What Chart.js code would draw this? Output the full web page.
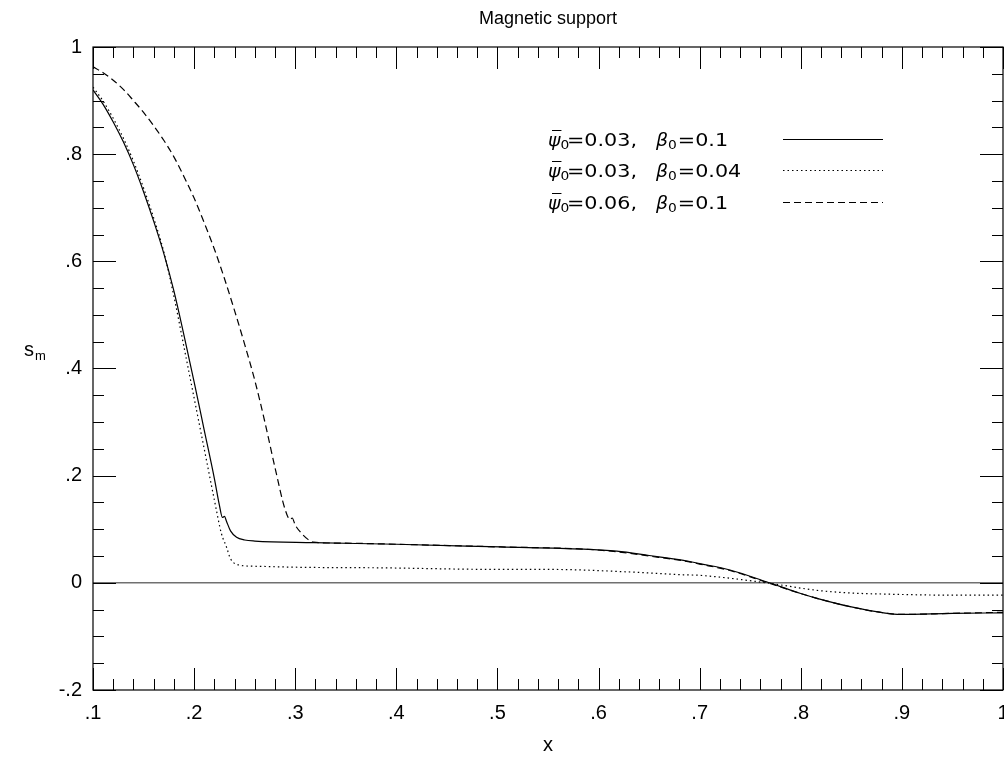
<!DOCTYPE html>
<html>
<head>
<meta charset="utf-8">
<script src="https://cdn.jsdelivr.net/npm/chart.js@4.4.0/dist/chart.umd.min.js"></script>
<style>
  body { margin: 0; background: #fff; }
  canvas { display: block; }
</style>
</head>
<body>
<canvas id="chart" width="1004" height="759"></canvas>
<script>
// values
const solidX = [0.100, 0.110, 0.120, 0.130, 0.140, 0.150, 0.160, 0.170, 0.180, 0.190, 0.200, 0.210, 0.220, 0.225, 0.228, 0.230, 0.232, 0.236, 0.242, 0.250, 0.260, 0.318, 0.400, 0.503, 0.585, 0.618, 0.650, 0.684, 0.700, 0.730, 0.766, 0.800, 0.816, 0.850, 0.882, 0.898, 0.950, 1.000];
const solidY = [0.920, 0.893, 0.860, 0.823, 0.780, 0.730, 0.675, 0.615, 0.545, 0.462, 0.375, 0.285, 0.195, 0.145, 0.122, 0.124, 0.115, 0.097, 0.085, 0.080, 0.078, 0.075, 0.072, 0.067, 0.063, 0.059, 0.051, 0.042, 0.036, 0.024, 0.002, -0.020, -0.029, -0.045, -0.056, -0.059, -0.057, -0.056];

const dottedX = [0.100, 0.110, 0.120, 0.130, 0.140, 0.150, 0.160, 0.170, 0.180, 0.190, 0.200, 0.210, 0.220, 0.227, 0.232, 0.236, 0.245, 0.260, 0.305, 0.384, 0.503, 0.552, 0.634, 0.684, 0.700, 0.766, 0.816, 0.850, 0.883, 0.950, 1.000];
const dottedY = [0.925, 0.899, 0.867, 0.830, 0.787, 0.737, 0.681, 0.618, 0.535, 0.440, 0.345, 0.250, 0.155, 0.092, 0.067, 0.045, 0.033, 0.031, 0.029, 0.028, 0.025, 0.025, 0.020, 0.015, 0.014, 0.000, -0.014, -0.019, -0.021, -0.023, -0.023];

const dashedX = [0.100, 0.110, 0.120, 0.130, 0.140, 0.150, 0.160, 0.170, 0.180, 0.190, 0.200, 0.210, 0.220, 0.230, 0.240, 0.250, 0.260, 0.270, 0.280, 0.290, 0.295, 0.297, 0.300, 0.305, 0.312, 0.318, 0.350, 0.400, 0.503, 0.585, 0.618, 0.650, 0.684, 0.700, 0.730, 0.766, 0.800, 0.816, 0.850, 0.882, 0.898, 0.950, 1.000];
const dashedY = [0.963, 0.952, 0.938, 0.921, 0.900, 0.878, 0.853, 0.826, 0.795, 0.758, 0.718, 0.672, 0.623, 0.568, 0.508, 0.445, 0.378, 0.300, 0.215, 0.137, 0.118, 0.121, 0.108, 0.095, 0.082, 0.076, 0.074, 0.072, 0.067, 0.063, 0.058, 0.050, 0.041, 0.035, 0.023, 0.001, -0.020, -0.029, -0.045, -0.056, -0.059, -0.057, -0.055];

const zeroX = [0.1, 1.0];
const zeroY = [0, 0];

const psiValues = ['0.03', '0.03', '0.06'];
const betaValues = ['0.1', '0.04', '0.1'];

const xTicks = [0.1, 0.2, 0.3, 0.4, 0.5, 0.6, 0.7, 0.8, 0.9, 1.0];
const xTickLabels = ['.1', '.2', '.3', '.4', '.5', '.6', '.7', '.8', '.9', '1'];
const yTicks = [-0.2, 0, 0.2, 0.4, 0.6, 0.8, 1.0];
const yTickLabels = ['-.2', '0', '.2', '.4', '.6', '.8', '1'];

const toPoints = (xs, ys) => xs.map((x, i) => ({ x: x, y: ys[i] }));

const LABEL_FONT = '20px "Liberation Sans", Arial, sans-serif';

// frame, inward ticks, tick labels, titles and the legend
const framePlugin = {
    id: 'frame',
    afterDraw(chart) {
        const ctx = chart.ctx;
        const { left, right, top, bottom } = chart.chartArea;
        const xs = chart.scales.x, ys = chart.scales.y;
        ctx.save();
        ctx.strokeStyle = '#000';
        ctx.lineWidth = 1.2;
        ctx.strokeRect(left, top, right - left, bottom - top);

        ctx.lineWidth = 1;
        ctx.beginPath();
        // x ticks, minor every .02
        for (let i = 0; i <= 45; i++) {
            const v = 0.1 + i * 0.02;
            const px = Math.round(xs.getPixelForValue(v)) + 0.5;
            const len = i % 5 === 0 ? 22 : 11;
            ctx.moveTo(px, bottom); ctx.lineTo(px, bottom - len);
            ctx.moveTo(px, top); ctx.lineTo(px, top + len);
        }
        // y ticks, minor every .05
        for (let i = 0; i <= 24; i++) {
            const v = -0.2 + i * 0.05;
            const py = Math.round(ys.getPixelForValue(v)) + 0.5;
            const len = i % 4 === 0 ? 23 : 11;
            ctx.moveTo(left, py); ctx.lineTo(left + len, py);
            ctx.moveTo(right, py); ctx.lineTo(right - len, py);
        }
        ctx.stroke();

        ctx.fillStyle = '#000';
        ctx.font = LABEL_FONT;
        ctx.textAlign = 'center';
        ctx.textBaseline = 'middle';
        xTicks.forEach((v, i) => ctx.fillText(xTickLabels[i], xs.getPixelForValue(v), bottom + 23));
        ctx.textAlign = 'right';
        yTicks.forEach((v, i) => ctx.fillText(yTickLabels[i], left - 11, ys.getPixelForValue(v)));

        // title and axis labels
        ctx.textAlign = 'center';
        ctx.font = '18px "Liberation Sans", Arial, sans-serif';
        ctx.fillText('Magnetic support', (left + right) / 2, 19);
        ctx.font = LABEL_FONT;
        ctx.fillText('x', (left + right) / 2, 745);
        ctx.textAlign = 'left';
        ctx.fillText('s', 24, 350);
        ctx.font = '13px "Liberation Sans", Arial, sans-serif';
        ctx.fillText('m', 35, 356);

        drawLegend(chart, ctx);
        ctx.restore();
    }
};

// text stretched sideways, the reference legend font is wider than DejaVu
function wideText(ctx, text, x, y, sx) {
    ctx.save();
    ctx.translate(x, y);
    ctx.scale(sx, 1);
    ctx.fillText(text, 0, 0);
    ctx.restore();
    return ctx.measureText(text).width * sx;
}

function drawLegend(chart, ctx) {
    const big = '18px "DejaVu Sans", sans-serif';
    const bigItalic = 'italic 18px "DejaVu Sans", sans-serif';
    const small = '12px "DejaVu Sans", sans-serif';
    const rowY = [139, 170, 202];
    const sx = 1.15;
    ctx.textAlign = 'left';
    ctx.textBaseline = 'alphabetic';
    ctx.fillStyle = '#000';
    rowY.forEach((y, i) => {
        const base = y + 7;
        let x = 548;
        ctx.font = bigItalic;
        const w = wideText(ctx, '\u03C8', x, base, 1.05);
        ctx.beginPath();
        ctx.lineWidth = 1;
        ctx.moveTo(x + 4, base - 15.5); ctx.lineTo(x + w + 1, base - 15.5);
        ctx.stroke();
        x += w;
        ctx.font = small;
        wideText(ctx, '0', x, base + 3, sx);
        x = 567;
        ctx.font = big;
        wideText(ctx, '=' + psiValues[i] + ',', x, base, sx);
        x = 656;
        ctx.font = bigItalic;
        x += wideText(ctx, '\u03B2', x, base, 1.05);
        ctx.font = small;
        x += wideText(ctx, '0', x, base + 3, sx);
        ctx.font = big;
        wideText(ctx, '=' + betaValues[i], x + 1, base, sx);

        const ds = chart.data.datasets[i];
        ctx.beginPath();
        ctx.lineWidth = ds.borderWidth;
        ctx.setLineDash(ds.borderDash || []);
        ctx.moveTo(783, y + 0.5); ctx.lineTo(883, y + 0.5);
        ctx.stroke();
        ctx.setLineDash([]);
    });
}

new Chart(document.getElementById('chart'), {
    type: 'scatter',
    data: {
        datasets: [
            { data: toPoints(solidX, solidY), borderColor: '#000', borderWidth: 1.2, borderDash: [] },
            { data: toPoints(dottedX, dottedY), borderColor: '#000', borderWidth: 1.2, borderDash: [1.5, 3] },
            { data: toPoints(dashedX, dashedY), borderColor: '#000', borderWidth: 1.2, borderDash: [7, 4] },
            { data: toPoints(zeroX, zeroY), borderColor: '#707070', borderWidth: 1.5, borderDash: [] }
        ]
    },
    options: {
        responsive: false,
        animation: false,
        devicePixelRatio: 1,
        showLine: true,
        layout: { padding: { left: 93, right: 1, top: 47, bottom: 69 } },
        elements: {
            point: { radius: 0, hoverRadius: 0 },
            line: { cubicInterpolationMode: 'monotone', fill: false }
        },
        scales: {
            x: { type: 'linear', min: 0.1, max: 1.0, display: false },
            y: { type: 'linear', min: -0.2, max: 1.0, display: false }
        },
        plugins: {
            legend: { display: false },
            title: { display: false },
            tooltip: { enabled: false }
        }
    },
    plugins: [framePlugin]
});
</script>
</body>
</html>
